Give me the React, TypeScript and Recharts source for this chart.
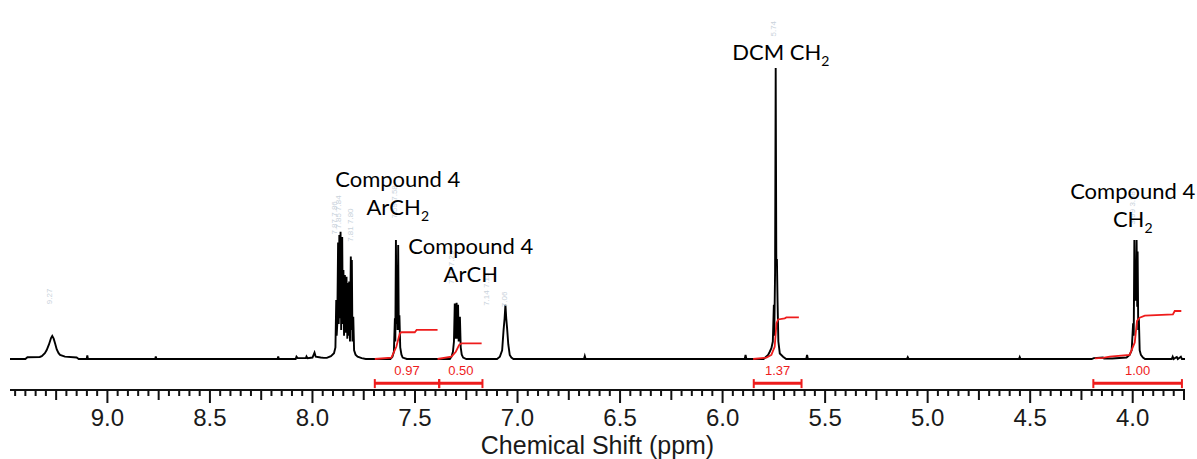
import React from 'react';
import { ComposedChart, Line, XAxis, YAxis, ReferenceLine, ReferenceDot, Label } from 'recharts';

type P = [number, number];

// ---- axis ----
const X_DOMAIN: [number, number] = [3.745, 9.475];
const Y_DOMAIN: [number, number] = [-10.65, 119.93];
const majorTickLabels = [9.0, 8.5, 8.0, 7.5, 7.0, 6.5, 6.0, 5.5, 5.0, 4.5, 4.0];
const tickValues: number[] = [];
for (let i = 375; i <= 945; i += 5) tickValues.push(i / 100);

// ---- spectrum (ppm, intensity) ----
const peak9_27: P[] = [
  [9.475, 0], [9.40, 0], [9.39, 0.6], [9.33, 0.7], [9.32, 1.0], [9.305, 2.0], [9.296, 3.1], [9.285, 5.0],
  [9.275, 7.2], [9.269, 7.9], [9.262, 7.0], [9.255, 5.3], [9.247, 3.3], [9.238, 2.0], [9.231, 1.4],
  [9.207, 0.8], [9.15, 0.5], [9.14, 0],
];
const smallDots: P[] = [
  [9.101, 0], [9.098, 1.2], [9.095, 0],
  [8.767, 0], [8.764, 0.9], [8.761, 0],
  [8.170, 0], [8.167, 0.9], [8.164, 0],
  [8.082, 0], [8.078, 0.8], [8.072, 0.3], [8.032, 0.3], [8.029, 0.9], [8.024, 0.3],
  [8.000, 0.5], [7.990, 2.2], [7.984, 0.8], [7.960, 0.5], [7.945, 0.4],
  [6.676, 0], [6.672, 1.0], [6.668, 0],
  [5.101, 0], [5.097, 0.6], [5.093, 0],
  [4.555, 0], [4.551, 0.7], [4.547, 0],
];
const cluster7_85: P[] = [
  [7.930, 0.4], [7.910, 1.0], [7.895, 2.0], [7.888, 4.0], [7.886, 12], [7.884, 20.3], [7.882, 8],
  [7.879, 12], [7.875, 40.0], [7.872, 12], [7.869, 42.6], [7.866, 14], [7.863, 43.7], [7.860, 10],
  [7.855, 41.9], [7.852, 12], [7.849, 30.6], [7.846, 8], [7.842, 28.9], [7.838, 9], [7.834, 28.3],
  [7.830, 7], [7.827, 26.1], [7.824, 8], [7.821, 26.6], [7.817, 6], [7.813, 35.2], [7.810, 10],
  [7.808, 34.0], [7.805, 6], [7.801, 14.5], [7.797, 3], [7.790, 1.5], [7.780, 0.8], [7.760, 0.3], [7.740, 0],
];
const peak7_58: P[] = [
  [7.620, 0], [7.610, 0.8], [7.603, 2.5], [7.598, 14], [7.596, 6], [7.593, 40.9], [7.590, 12],
  [7.588, 22], [7.585, 10], [7.582, 39.2], [7.579, 10], [7.576, 15], [7.572, 4], [7.566, 1.5],
  [7.560, 0.5], [7.540, 0],
];
const peak7_29: P[] = [
  [7.330, 0], [7.322, 0.8], [7.315, 2.5], [7.310, 6], [7.306, 19.1], [7.303, 7], [7.300, 17],
  [7.297, 19.3], [7.294, 7], [7.290, 18.6], [7.287, 6], [7.284, 12], [7.281, 14.5], [7.277, 4],
  [7.272, 1.5], [7.265, 0.5], [7.250, 0],
];
const peak7_06: P[] = [
  [7.100, 0], [7.086, 0.8], [7.075, 3], [7.068, 10], [7.063, 14], [7.059, 18.6], [7.055, 14],
  [7.051, 10.7], [7.045, 5], [7.038, 1.4], [7.030, 0.5], [7.020, 0],
];
const peakDCM: P[] = [
  [5.900, 0], [5.892, 0], [5.888, 1.4], [5.884, 0], [5.800, 0], [5.778, 1.4], [5.770, 2.5],
  [5.762, 3.7], [5.755, 6], [5.750, 18.6], [5.748, 8], [5.744, 30], [5.741, 100], [5.738, 34],
  [5.735, 34], [5.732, 20], [5.728, 6], [5.721, 1.9], [5.705, 0.8], [5.690, 0],
  [5.592, 0], [5.588, 1.4], [5.584, 0],
];
const peak3_98: P[] = [
  [4.200, 0], [4.190, 0.3], [4.145, 0.5], [4.140, 0.2], [4.100, 0.2], [4.030, 0.5], [4.015, 1.4],
  [4.005, 3], [3.998, 12.3], [3.995, 8], [3.992, 40.9], [3.989, 20], [3.986, 30], [3.983, 20],
  [3.981, 40.9], [3.978, 18], [3.976, 36.9], [3.973, 10], [3.970, 14], [3.966, 3], [3.960, 1.4],
  [3.950, 0.5], [3.940, 0], [3.810, 0], [3.805, 0.8], [3.800, 0], [3.790, 0.5], [3.785, 0.7],
  [3.780, 0], [3.770, 0.5], [3.765, 0.8], [3.760, 0], [3.745, 0],
];

const spectrum = [
  ...peak9_27, ...smallDots, ...cluster7_85, ...peak7_58, ...peak7_29, ...peak7_06, ...peakDCM, ...peak3_98,
]
  .sort((a, b) => b[0] - a[0])
  .map(([ppm, v]) => ({ ppm, v }));

// ---- integral curves ----
const integral1: P[] = [
  [7.696, 0], [7.615, 0.5], [7.591, 4.2], [7.574, 8.8], [7.566, 9.2], [7.501, 9.2], [7.492, 10.0], [7.390, 10.0],
];
const integral2: P[] = [
  [7.390, 0], [7.322, 0.8], [7.301, 2.5], [7.285, 4.8], [7.274, 5.4], [7.175, 5.4],
];
const integral3: P[] = [
  [5.851, 0], [5.786, 0.5], [5.762, 1.4], [5.746, 4.2], [5.737, 12.3], [5.729, 13.6], [5.697, 14.0],
  [5.689, 14.3], [5.628, 14.3],
];
const integral4: P[] = [
  [4.185, 0.2], [4.145, 0.4], [4.112, 0.8], [4.015, 1.4], [3.990, 5.7], [3.979, 13.1], [3.966, 14.2],
  [3.941, 14.9], [3.804, 15.3], [3.795, 16.5], [3.763, 16.5],
];
const integrals = [integral1, integral2, integral3, integral4].map((arr) => arr.map(([ppm, v]) => ({ ppm, v })));

// ---- integration ranges ----
const integrationRanges: P[] = [[7.696, 7.382], [7.382, 7.171], [5.848, 5.615], [4.192, 3.760]];
const integrationValues = ['0.97', '0.50', '1.37', '1.00'];
const BAR_LEVEL = -8.35;
const CAP_TOP = -6.9;
const CAP_BOTTOM = -10.0;
const INT_LABEL_LEVEL = -4.12;

// ---- annotations ----
const annotations: { ppm: number; v: number; lines: [string, string][] }[] = [
  { ppm: 7.584, v: 61.5, lines: [['Compound 4', ''], ['ArCH', '2']] },
  { ppm: 7.228, v: 38.6, lines: [['Compound 4', ''], ['ArCH', '']] },
  { ppm: 5.716, v: 105.2, lines: [['DCM CH', '2']] },
  { ppm: 4.0, v: 57.5, lines: [['Compound 4', ''], ['CH', '2']] },
];

// faint peak-pick labels
const faintLabels: { ppm: number; v: number; text: string }[] = [
  { ppm: 9.27, v: 21.5, text: '9.27' },
  { ppm: 7.88, v: 48.5, text: '7.87 7.86' },
  { ppm: 7.86, v: 50.5, text: '7.85 7.84' },
  { ppm: 7.80, v: 46.0, text: '7.81 7.80' },
  { ppm: 7.59, v: 54.0, text: '7.59 7.58' },
  { ppm: 7.31, v: 31.5, text: '7.30 7.29' },
  { ppm: 7.14, v: 24.0, text: '7.14 7.13' },
  { ppm: 7.05, v: 20.5, text: '7.06' },
  { ppm: 5.74, v: 113.5, text: '5.74' },
  { ppm: 3.99, v: 52.0, text: '3.99 3.98' },
];

const RED = '#ee1c1c';
const SERIF_FREE = 'Lato, "Open Sans", sans-serif';
const AXIS_FONT = '"Liberation Sans", Arial, sans-serif';

const AxisTick = (props: any) => {
  const { x, y, payload } = props;
  const val = payload.value as number;
  const h = Math.round(val * 100);
  const isMajor = majorTickLabels.some((m) => Math.abs(m - val) < 1e-6);
  const isMed = h % 25 === 0;
  const len = isMajor ? 13 : isMed ? 10 : 6;
  return (
    <g>
      <line x1={x} x2={x} y1={y} y2={y + len} stroke="#111" strokeWidth={2} />
      {isMajor && (
        <text x={x} y={y + 36} textAnchor="middle" fontSize={24} fontFamily={AXIS_FONT} fill="#1a1a1a">
          {val.toFixed(1)}
        </text>
      )}
    </g>
  );
};

const AxisTitle = (props: any) => {
  const vb = props.viewBox || { x: 10, y: 390, width: 1175 };
  return (
    <text x={vb.x + vb.width / 2} y={vb.y + 64} textAnchor="middle" fontSize={25} fontFamily={AXIS_FONT} fill="#1a1a1a">
      Chemical Shift (ppm)
    </text>
  );
};

const makeAnnot = (lines: [string, string][]) => (props: any) => {
  const { cx, cy } = props;
  return (
    <g>
      {lines.map(([main, sub], i) => (
        <text key={i} x={cx} y={cy + 7 + i * 28} textAnchor="middle" fontSize={22} fontFamily={SERIF_FREE} fill="#000">
          {main}
          {sub && (
            <tspan fontSize={14} dy={6}>
              {sub}
            </tspan>
          )}
        </text>
      ))}
    </g>
  );
};

const makeFaint = (text: string) => (props: any) => {
  const { cx, cy } = props;
  return (
    <text x={cx} y={cy} transform={`rotate(-90 ${cx} ${cy})`} textAnchor="middle" fontSize={8} fontFamily={AXIS_FONT} fill="#c9d2db">
      {text}
    </text>
  );
};

const makeIntLabel = (text: string) => (props: any) => {
  const { cx, cy } = props;
  return (
    <text x={cx} y={cy + 4.5} textAnchor="middle" fontSize={13} fontFamily={AXIS_FONT} fill={RED}>
      {text}
    </text>
  );
};

export default function App() {
  return (
    <div style={{ position: 'absolute', left: 0, top: 0, width: 1197, height: 459, background: '#fff' }}>
      <ComposedChart width={1197} height={459} margin={{ top: 10, right: 12, bottom: 0, left: 10 }} data={spectrum}>
        <XAxis
          type="number"
          dataKey="ppm"
          domain={X_DOMAIN}
          reversed
          allowDataOverflow
          ticks={tickValues}
          interval={0}
          tick={<AxisTick />}
          tickLine={false}
          tickSize={0}
          tickMargin={0}
          height={69}
          axisLine={{ stroke: '#111', strokeWidth: 2 }}
        >
          <Label content={<AxisTitle />} />
        </XAxis>
        <YAxis type="number" domain={Y_DOMAIN} hide allowDataOverflow />

        {faintLabels.map((f, i) => (
          <ReferenceDot key={`f${i}`} x={f.ppm} y={f.v} r={0} shape={makeFaint(f.text)} ifOverflow="visible" />
        ))}

        <Line
          type="linear"
          dataKey="v"
          stroke="#000"
          strokeWidth={1.9}
          dot={false}
          isAnimationActive={false}
        />
        {integrals.map((d, i) => (
          <Line
            key={`int${i}`}
            data={d}
            type="linear"
            dataKey="v"
            stroke={RED}
            strokeWidth={1.8}
            dot={false}
            isAnimationActive={false}
          />
        ))}

        {integrationRanges.map(([a, b], i) => (
          <ReferenceLine
            key={`bar${i}`}
            segment={[{ x: a, y: BAR_LEVEL }, { x: b, y: BAR_LEVEL }]}
            stroke={RED}
            strokeWidth={3}
            ifOverflow="visible"
          />
        ))}
        {integrationRanges.flat().map((p, i) => (
          <ReferenceLine
            key={`cap${i}`}
            segment={[{ x: p, y: CAP_TOP }, { x: p, y: CAP_BOTTOM }]}
            stroke={RED}
            strokeWidth={2}
            ifOverflow="visible"
          />
        ))}
        {integrationRanges.map(([a, b], i) => (
          <ReferenceDot
            key={`il${i}`}
            x={(a + b) / 2}
            y={INT_LABEL_LEVEL}
            r={0}
            shape={makeIntLabel(integrationValues[i])}
            ifOverflow="visible"
          />
        ))}

        {annotations.map((a, i) => (
          <ReferenceDot key={`a${i}`} x={a.ppm} y={a.v} r={0} shape={makeAnnot(a.lines)} ifOverflow="visible" />
        ))}
      </ComposedChart>
    </div>
  );
}
